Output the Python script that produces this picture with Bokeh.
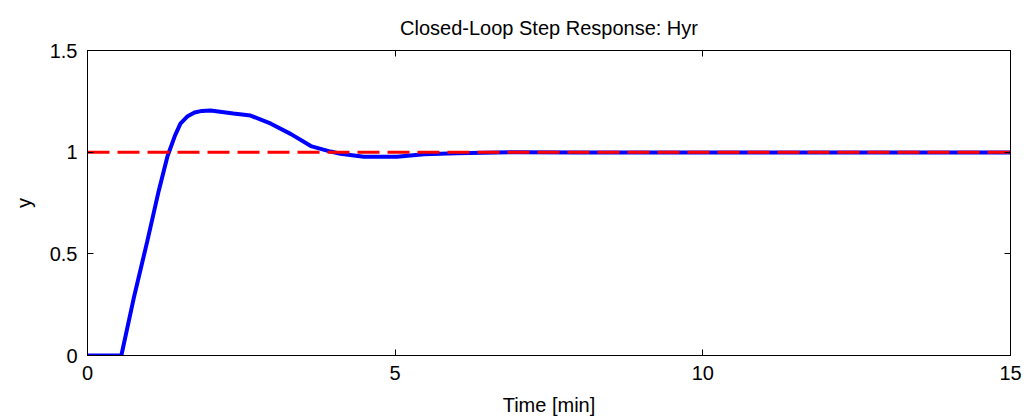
from bokeh.plotting import figure
from bokeh.models import Range1d, FixedTicker, LinearAxis, Title, CustomJSTickFormatter
from bokeh.embed import file_html
from bokeh.resources import INLINE

# Step response data
t = [0.0, 0.55, 0.75, 0.97, 1.15, 1.30, 1.42, 1.51, 1.62, 1.74, 1.86, 2.00, 2.37, 2.65, 2.98,
     3.30, 3.63, 3.95, 4.11, 4.49, 5.03, 5.47, 6.00, 7.00, 8.00, 15.0]
y = [0.0, 0.0, 0.28, 0.56, 0.80, 0.98, 1.08, 1.14, 1.175, 1.195, 1.203, 1.205, 1.19, 1.18, 1.14,
     1.09, 1.03, 1.003, 0.992, 0.978, 0.978, 0.99, 0.995, 1.0, 0.998, 0.998]
ref_t = [0.0, 15.0]
ref_y = [1.0, 1.0]
x_ticks = [0, 5, 10, 15]
y_ticks = [0, 0.5, 1, 1.5]
y_tick_labels = {0: "0", 0.5: "0.5", 1: "1", 1.5: "1.5"}

FONT = "Liberation Sans"
FS = "20px"

p = figure(width=1026, height=418, output_backend="svg", toolbar_location=None,
           x_range=Range1d(0, 15), y_range=Range1d(0, 1.5),
           min_border_left=87, min_border_right=16, min_border_top=50, min_border_bottom=63,
           title=None)
p.grid.visible = False
p.background_fill_color = "white"
p.border_fill_color = "white"
p.outline_line_color = "black"
p.outline_line_width = 1

xa = p.xaxis[0]
xa.ticker = FixedTicker(ticks=x_ticks)
xa.axis_label = "Time [min]"
ya = p.yaxis[0]
ya.ticker = FixedTicker(ticks=y_ticks)
ya.major_label_overrides = y_tick_labels
ya.axis_label = "y"

for ax in (xa, ya):
    ax.major_tick_in = 6
    ax.major_tick_out = 0
    ax.minor_tick_in = 0
    ax.minor_tick_out = 0
    ax.axis_line_color = "black"
    ax.major_tick_line_color = "black"
    ax.major_label_text_font = FONT
    ax.major_label_text_font_size = FS
    ax.major_label_text_color = "black"
    ax.axis_label_text_font = FONT
    ax.axis_label_text_font_size = FS
    ax.axis_label_text_font_style = "normal"
    ax.axis_label_text_color = "black"
xa.major_label_standoff = 10
xa.axis_label_standoff = 11
ya.major_label_standoff = 10
ya.axis_label_standoff = 12

# mirrored ticks on top and right (no labels)
blank = CustomJSTickFormatter(code="return ''")
top = LinearAxis(ticker=FixedTicker(ticks=x_ticks), formatter=blank,
                 major_tick_in=6, major_tick_out=0, minor_tick_in=0, minor_tick_out=0,
                 axis_line_color="black", major_label_standoff=0)
right = LinearAxis(ticker=FixedTicker(ticks=y_ticks), formatter=blank,
                   major_tick_in=6, major_tick_out=0, minor_tick_in=0, minor_tick_out=0,
                   axis_line_color="black", major_label_standoff=0)
p.add_layout(top, "above")
p.add_layout(right, "right")

title = Title(text="Closed-Loop Step Response: Hyr", align="center",
              text_font=FONT, text_font_size="20px", text_font_style="normal",
              text_color="black", standoff=24)
p.add_layout(title, "above")

p.line(t, y, line_color="#0000ff", line_width=4)
p.line(ref_t, ref_y, line_color="#ff0000", line_width=3, line_dash="22 8")

open("out.html", "w").write(file_html(p, INLINE))
